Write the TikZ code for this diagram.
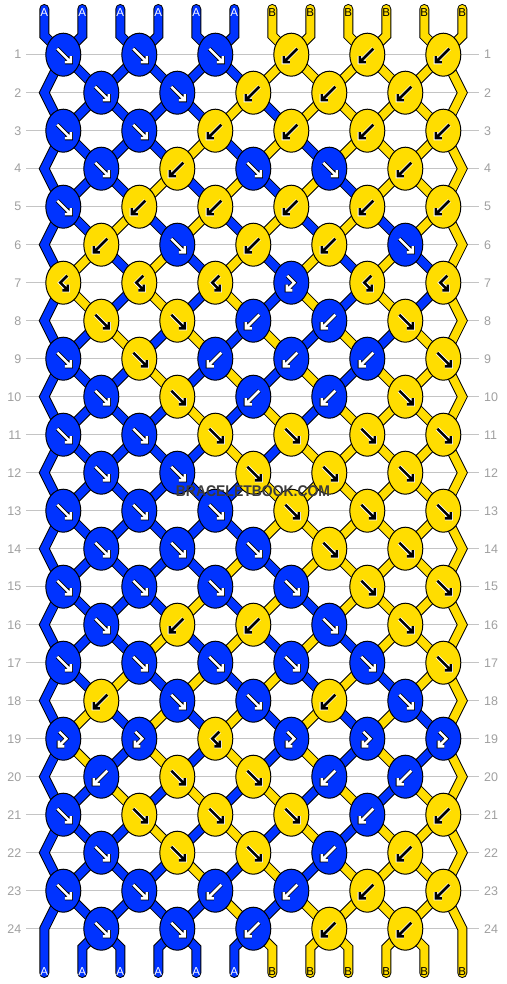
\documentclass[tikz,border=0pt]{standalone}
\usepackage{fontspec}
\setmainfont{Liberation Sans}
\usetikzlibrary{shapes.geometric}
\definecolor{B}{HTML}{0033FF}
\definecolor{Y}{HTML}{FFDD00}
\definecolor{gridgray}{HTML}{C4C4C4}
\definecolor{numgray}{HTML}{A0A0A0}
\definecolor{wmgray}{HTML}{3C3C3C}
\tikzset{
  gridline/.style={draw=gridgray, line width=1pt},
  strandout/.style={line width=10pt, draw=black},
  strandin/.style={line width=8pt},
  knotshape/.style={ellipse, draw=black, line width=1pt, minimum width=35pt, minimum height=43pt, inner sep=0pt},
  rownum/.style={text=numgray, font=\fontsize{12.5}{12.5}\selectfont, inner sep=0pt},
  strlabel/.style={font=\fontsize{11.5}{11.5}\selectfont, inner sep=0pt},
  wm/.style={font=\bfseries\fontsize{15.5}{15.5}\selectfont, inner sep=0pt, xscale=0.9},
  symcolB/.code={\def\si{white}\def\so{black}},
  symcolY/.code={\def\si{black}\def\so{white}},
  symo/.style={line width=4.2pt, draw=\so, line cap=square, line join=miter},
  symi/.style={line width=2.6pt, draw=\si, line cap=square, line join=miter},
  symf/.pic={
    \draw[symo] (-6,-6) -- (6.5,6.5) (1.5,7.5) -- (7.5,7.5) -- (7.5,1.5);
    \draw[symi] (-6,-6) -- (6.5,6.5) (1.5,7.5) -- (7.5,7.5) -- (7.5,1.5);
  },
  symb/.pic={
    \draw[symo] (6,-6) -- (-6.5,6.5) (-1.5,7.5) -- (-7.5,7.5) -- (-7.5,1.5);
    \draw[symi] (6,-6) -- (-6.5,6.5) (-1.5,7.5) -- (-7.5,7.5) -- (-7.5,1.5);
  },
  symp/.pic={
    \draw[symo] (-4,-7) -- (3,0) -- (-3.5,6.5) (1,7.5) -- (-4.5,7.5) -- (-4.5,2);
    \draw[symi] (-4,-7) -- (3,0) -- (-3.5,6.5) (1,7.5) -- (-4.5,7.5) -- (-4.5,2);
  },
  symq/.pic={
    \draw[symo] (4,-7) -- (-3,0) -- (3.5,6.5) (-1,7.5) -- (4.5,7.5) -- (4.5,2);
    \draw[symi] (4,-7) -- (-3,0) -- (3.5,6.5) (-1,7.5) -- (4.5,7.5) -- (4.5,2);
  },
}
\begin{document}
\begin{tikzpicture}[x=1pt,y=-1pt]
\useasboundingbox (0,0) rectangle (506,984);
\fill[white] (0,0) rectangle (506,984);

% grid lines and row numbers
\foreach \r in {1,...,24}{
  \pgfmathsetmacro\yy{54.7+38*(\r-1)}
  \draw[gridline] (26,\yy) -- (479,\yy);
  \node[rownum, anchor=east] (nl\r) at (21.5,\yy) {\r};
  \node[rownum, anchor=west] (nr\r) at (484,\yy) {\r};
}

% edge strands (positions 1 and 12)
\draw[strandout, line cap=round] (44.3,9) -- (44.3,35.7)
  \foreach \r in {1,...,24}{ -- ({44.3+19*mod(\r,2)},{54.7+38*(\r-1)}) } -- (44.3,973);
\draw[strandin, draw=B, line cap=round] (44.3,9) -- (44.3,35.7)
  \foreach \r in {1,...,24}{ -- ({44.3+19*mod(\r,2)},{54.7+38*(\r-1)}) } -- (44.3,973);
\draw[strandout, line cap=round] (462.3,9) -- (462.3,35.7)
  \foreach \r in {1,...,24}{ -- ({462.3-19*mod(\r,2)},{54.7+38*(\r-1)}) } -- (462.3,973);
\draw[strandin, draw=Y, line cap=round] (462.3,9) -- (462.3,35.7)
  \foreach \r in {1,...,24}{ -- ({462.3-19*mod(\r,2)},{54.7+38*(\r-1)}) } -- (462.3,973);

% top and bottom strands
\foreach \i in {2,...,11}{
  \pgfmathsetmacro\xs{44.3+38*(\i-1)}
  \pgfmathsetmacro\xk{\xs+ifthenelse(mod(\i,2)==1,19,-19)}
  \pgfmathsetmacro\xb{\xs+ifthenelse(mod(\i,2)==0,19,-19)}
  \ifnum\i<7 \def\cc{B}\else\def\cc{Y}\fi
  \draw[strandout, line cap=round] (\xs,9) -- (\xs,35.7) -- (\xk,54.7);
  \draw[strandin, draw=\cc, line cap=round] (\xs,9) -- (\xs,35.7) -- (\xk,54.7);
  \draw[strandout, line cap=round] (\xb,928.7) -- (\xs,947.7) -- (\xs,973);
  \draw[strandin, draw=\cc, line cap=round] (\xb,928.7) -- (\xs,947.7) -- (\xs,973);
}

% inner segments between rows
\foreach \r/\s in {
 1/{B,B,B,B,B,B,Y,Y,Y,Y,Y,Y},
 2/{B,B,B,B,B,Y,B,Y,Y,Y,Y,Y},
 3/{B,B,B,B,Y,B,Y,B,Y,Y,Y,Y},
 4/{B,B,B,Y,B,Y,B,Y,B,Y,Y,Y},
 5/{B,B,Y,B,Y,B,Y,B,Y,B,Y,Y},
 6/{B,Y,B,Y,B,Y,B,Y,B,Y,B,Y},
 7/{B,Y,B,Y,B,Y,B,Y,B,Y,B,Y},
 8/{B,B,Y,B,Y,B,Y,B,Y,B,Y,Y},
 9/{B,B,B,Y,B,Y,B,Y,B,Y,Y,Y},
 10/{B,B,B,B,Y,B,Y,B,Y,Y,Y,Y},
 11/{B,B,B,B,B,Y,B,Y,Y,Y,Y,Y},
 12/{B,B,B,B,B,B,Y,Y,Y,Y,Y,Y},
 13/{B,B,B,B,B,B,Y,Y,Y,Y,Y,Y},
 14/{B,B,B,B,B,Y,B,Y,Y,Y,Y,Y},
 15/{B,B,B,B,Y,B,Y,B,Y,Y,Y,Y},
 16/{B,B,B,Y,B,Y,B,Y,B,Y,Y,Y},
 17/{B,B,Y,B,Y,B,Y,B,Y,B,Y,Y},
 18/{B,Y,B,Y,B,Y,B,Y,B,Y,B,Y},
 19/{B,Y,B,Y,B,Y,B,Y,B,Y,B,Y},
 20/{B,B,Y,B,Y,B,Y,B,Y,B,Y,Y},
 21/{B,B,B,Y,B,Y,B,Y,B,Y,Y,Y},
 22/{B,B,B,B,Y,B,Y,B,Y,Y,Y,Y},
 23/{B,B,B,B,B,Y,B,Y,Y,Y,Y,Y}}{
  \pgfmathsetmacro\ya{54.7+38*(\r-1)}
  \pgfmathsetmacro\yb{\ya+38}
  \foreach \c [count=\i] in \s {
    \ifnum\i>1 \ifnum\i<12
      \pgfmathsetmacro\off{ifthenelse(mod(\i+\r,2)==0,19,-19)}
      \pgfmathsetmacro\xa{44.3+38*(\i-1)+\off}
      \pgfmathsetmacro\xb{44.3+38*(\i-1)-\off}
      \draw[strandout] (\xa,\ya) -- (\xb,\yb);
      \draw[strandin, draw=\c] (\xa,\ya) -- (\xb,\yb);
    \fi\fi
  }
}

% string labels
\foreach \i in {1,...,12}{
  \pgfmathsetmacro\xs{44.3+38*(\i-1)}
  \ifnum\i<7
    \node[strlabel, text=white] (lt\i) at (\xs,12.2) {A};
    \node[strlabel, text=white] (lb\i) at (\xs,972) {A};
  \else
    \node[strlabel, text=black] (lt\i) at (\xs,12.2) {B};
    \node[strlabel, text=black] (lb\i) at (\xs,972) {B};
  \fi
}

% knots
\foreach \r/\ks in {
 1/{B/f,B/f,B/f,Y/b,Y/b,Y/b},
 2/{B/f,B/f,Y/b,Y/b,Y/b},
 3/{B/f,B/f,Y/b,Y/b,Y/b,Y/b},
 4/{B/f,Y/b,B/f,B/f,Y/b},
 5/{B/f,Y/b,Y/b,Y/b,Y/b,Y/b},
 6/{Y/b,B/f,Y/b,Y/b,B/f},
 7/{Y/q,Y/q,Y/q,B/p,Y/q,Y/q},
 8/{Y/f,Y/f,B/b,B/b,Y/f},
 9/{B/f,Y/f,B/b,B/b,B/b,Y/f},
 10/{B/f,Y/f,B/b,B/b,Y/f},
 11/{B/f,B/f,Y/f,Y/f,Y/f,Y/f},
 12/{B/f,B/f,Y/f,Y/f,Y/f},
 13/{B/f,B/f,B/f,Y/f,Y/f,Y/f},
 14/{B/f,B/f,B/f,Y/f,Y/f},
 15/{B/f,B/f,B/f,B/f,Y/f,Y/f},
 16/{B/f,Y/b,Y/b,B/f,Y/f},
 17/{B/f,B/f,B/f,B/f,B/f,Y/f},
 18/{Y/b,B/f,B/f,Y/b,B/f},
 19/{B/p,B/p,Y/q,B/p,B/p,B/p},
 20/{B/b,Y/f,Y/f,B/b,B/b},
 21/{B/f,Y/f,Y/f,Y/f,B/b,Y/b},
 22/{B/f,Y/f,Y/f,B/b,Y/b},
 23/{B/f,B/f,B/b,B/b,Y/b,Y/b},
 24/{B/f,B/f,B/b,Y/b,Y/b}}{
  \foreach \c/\t [count=\j] in \ks {
    \pgfmathsetmacro\kx{ifthenelse(mod(\r,2)==1,63.3,101.3)+76*(\j-1)}
    \pgfmathsetmacro\ky{54.7+38*(\r-1)}
    \node[knotshape, fill=\c] (k\r-\j) at (\kx,\ky) {};
    \tikzset{symcol\c}
    \pic at (\kx,\ky) {sym\t};
  }
}

% watermark
\node[wm, text=wmgray] (wmark) at (253,491) {BRACELETBOOK.COM};
\end{tikzpicture}
\end{document}
